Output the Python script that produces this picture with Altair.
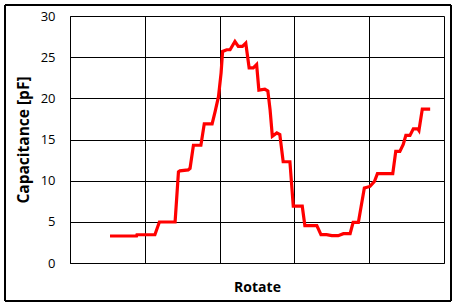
import altair as alt
import pandas as pd

rotate = [10.7, 17.8, 17.9, 22.7, 23.9, 28.1, 29.0, 29.4, 31.6, 32.1, 33.0, 35.0, 35.9, 38.0,
          38.8, 39.7, 40.4, 40.8, 41.9, 42.8, 44.1, 45.0, 46.1, 47.0, 47.9, 49.0, 49.9, 50.5,
          52.1, 52.9, 53.5, 54.1, 55.3, 56.1, 57.0, 58.8, 59.7, 62.1, 62.8, 66.0, 67.1, 68.6,
          70.0, 71.7, 73.1, 74.9, 75.7, 77.1, 78.7, 80.2, 81.4, 82.2, 86.3, 87.1, 88.2, 89.1,
          89.8, 90.9, 91.8, 93.0, 93.3, 94.2, 96.3]
capacitance = [3.28, 3.3, 3.43, 3.43, 4.98, 5.0, 11.06, 11.2, 11.3, 11.5, 14.3, 14.3, 16.9, 16.9,
               18.4, 20.2, 23.1, 25.7, 25.9, 25.9, 26.9, 26.3, 26.3, 26.7, 23.7, 23.7, 24.1, 21.0,
               21.1, 20.9, 18.6, 15.4, 15.8, 15.6, 12.3, 12.3, 6.9, 6.9, 4.53, 4.53, 3.44, 3.44,
               3.32, 3.32, 3.56, 3.56, 4.93, 4.93, 9.1, 9.3, 9.9, 10.85, 10.85, 13.56, 13.56, 14.4,
               15.5, 15.5, 16.3, 16.3, 16.1, 18.7, 18.7]
y_ticks = [0, 5, 10, 15, 20, 25, 30]
x_grid = [0, 20, 40, 60, 80, 100]

df = pd.DataFrame({"rotate": rotate, "cap": capacitance})

FONT = "Open Sans"

line = alt.Chart(df).mark_line(color="#FF0000", strokeWidth=3.2, interpolate="linear").encode(
    x=alt.X("rotate:Q", scale=alt.Scale(domain=[0, 100], nice=False),
            axis=alt.Axis(values=x_grid, labels=False, ticks=False, grid=True,
                          gridColor="black", gridOpacity=1, gridWidth=1,
                          domainColor="black", title="Rotate",
                          titleFont=FONT, titleFontSize=14, titleFontWeight="bold",
                          titleColor="black", titleBaseline="middle",
                          titleX=187, titleY=24)),
    y=alt.Y("cap:Q", scale=alt.Scale(domain=[0, 30], nice=False),
            axis=alt.Axis(values=y_ticks, ticks=False, grid=True, gridColor="black",
                          gridOpacity=1, gridWidth=1, domainColor="black",
                          labelFont=FONT, labelFontSize=13, labelColor="black",
                          labelPadding=15,
                          title="Capacitance [pF]", titleFont=FONT, titleFontSize=15.5,
                          titleFontWeight="bold", titleColor="black",
                          titleAngle=270, titleAlign="center", titleBaseline="middle",
                          titleX=-47, titleY=123.5)),
)

border = alt.Chart(df).mark_rect(fill=None, stroke="black", strokeWidth=1).encode(
    x=alt.value(-65), x2=alt.value(381), y=alt.value(-11), y2=alt.value(285)
)

chart = alt.layer(border, line).properties(
    width=374, height=247,
    autosize=alt.AutoSizeParams(type="none"),
    padding={"left": 70, "top": 16, "right": 14, "bottom": 44},
).configure_view(stroke="black", strokeWidth=1).configure(background="white")

chart.save("out.html", embed_options={"renderer": "svg", "actions": False})
